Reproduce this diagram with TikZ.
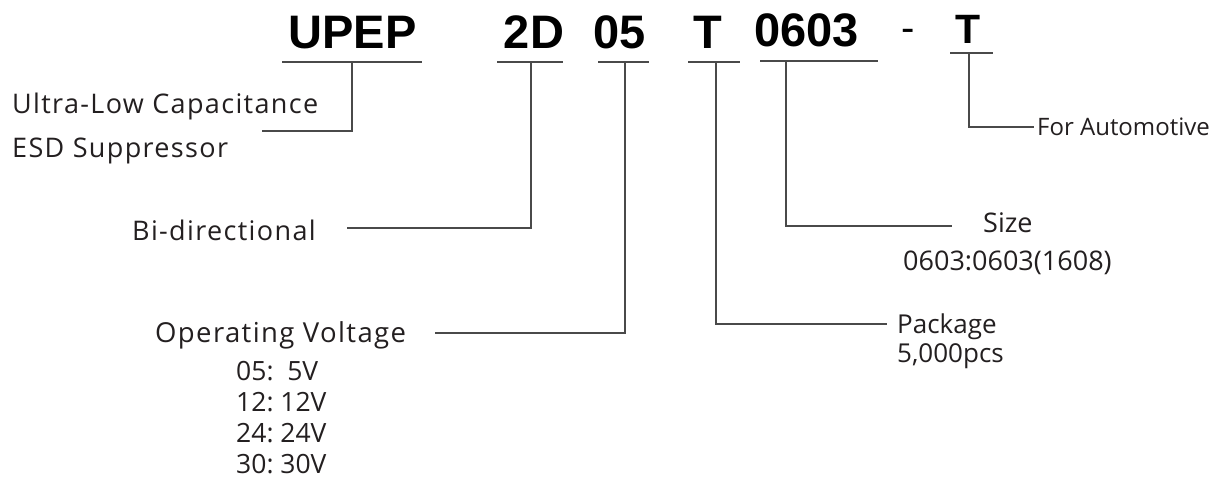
\documentclass[tikz,border=0pt]{standalone}
\usepackage{fontspec}
\usepackage{xcolor}
\setmainfont{Open Sans}
\newfontfamily\codefont{Liberation Sans}
\newfontfamily\spacedfont[LetterSpace=5]{Open Sans}
\usetikzlibrary{positioning}

\definecolor{inkdark}{HTML}{231F20}
\definecolor{linegray}{HTML}{4A4A4A}

\tikzset{
  code/.style={font=\codefont\bfseries\fontsize{47}{47}\selectfont, text=black, inner sep=0pt, anchor=base},
  label/.style={font=\fontsize{#1}{#1}\selectfont, text=inkdark, inner sep=0pt, anchor=base west},
  label/.default=25,
  spaced/.style={font=\spacedfont\fontsize{#1}{#1}\selectfont, text=inkdark, inner sep=0pt, anchor=base west},
  spaced/.default=27,
  uline/.style={line width=2pt, draw=linegray},
  conn/.style={line width=1.1pt, draw=linegray},
}

\begin{document}
\begin{tikzpicture}[x=1pt, y=-1pt]
    % Fix the page size
    \fill[white] (0,0) rectangle (1216,479);
    \useasboundingbox (0,0) rectangle (1216,479);

    % Draw the part number
    \node[code] (upep) at (352.5,48) {UPEP};
    \node[code] (dir) at (534,48) {2D};
    \node[code] (volt) at (620,48) {05};
    \node[code] (pack) at (707.5,48) {T};
    \node[code] (size) at (806.5,46) {0603};
    \node[code, font=\codefont\fontsize{40}{40}\selectfont] (dash) at (908,41) {-};
    \node[code, font=\codefont\bfseries\fontsize{41}{41}\selectfont] (auto) at (968.5,43) {T};

    % Underline each field
    \foreach \a/\b/\y in {282/422/62, 497/563/62, 598/649/62, 688/740/62, 760/878/61, 950/993/53}
        \draw[uline] (\a,\y) -- (\b,\y);

    % Add the descriptions
    \node[spaced] (ultra) at (12,113) {Ultra-Low Capacitance};
    \node[spaced] (esd) at (12,157) {ESD Suppressor};
    \node[spaced] (bidir) at (132,240) {Bi-directional};
    \node[spaced=27.5] (opvolt) at (155,342) {Operating Voltage};
    \foreach \v/\t [count=\i from 0] in {05/5V, 12/12V, 24/24V, 30/30V}
        \node[label=26.5] (volt\i) at (236,380+31.3*\i) {\v:\ifnum\i=0\ \fi\ \t};
    \node[label=27] (sizelbl) at (983,232) {Size};
    \node[label=27] (sizeval) at (903,270) {0603:0603(1608)};
    \node[label=26] (packlbl) at (897,333) {Package};
    \node[label=26] (packval) at (897,362) {5,000pcs};
    \node[label=24] (autolbl) at (1037,135) {For Automotive};

    % Ticks and line ends
    \coordinate (t-upep) at (352,62);
    \coordinate (t-dir) at (531,62);
    \coordinate (t-volt) at (625,62);
    \coordinate (t-pack) at (716,62);
    \coordinate (t-size) at (786,61);
    \coordinate (t-auto) at (969,53);
    \coordinate (e-upep) at (262,131);
    \coordinate (e-dir) at (347,228);
    \coordinate (e-volt) at (435,333);
    \coordinate (e-pack) at (887,324);
    \coordinate (e-size) at (952,226);
    \coordinate (e-auto) at (1034,127);

    % Draw the connectors
    \foreach \n in {upep, dir, volt, pack, size, auto}
        \draw[conn] (t-\n) |- (e-\n);
\end{tikzpicture}
\end{document}
